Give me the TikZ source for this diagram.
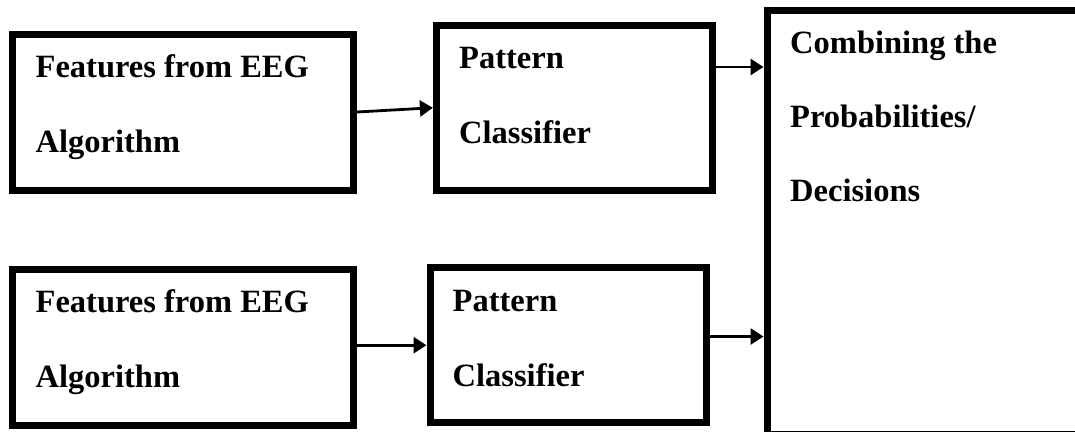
\documentclass[tikz,border=0pt]{standalone}
\usepackage{fontspec}
\setmainfont{Liberation Serif}
\usetikzlibrary{arrows.meta}
\tikzset{
  block/.style={draw=black, line width=7pt, rectangle, inner sep=0pt, fill=none},
  txt/.style={anchor=base west, inner sep=0pt, font=\fontsize{32.5}{38}\selectfont\bfseries},
  flow/.style={draw=black, line width=2.8pt, -{Triangle[length=13pt,width=16pt]}}
}
\begin{document}
\begin{tikzpicture}[x=1pt,y=-1pt]
\useasboundingbox (0,0) rectangle (1075,431);
\fill[white] (0,0) rectangle (1075,431);
\clip (0,0) rectangle (1075,431);

% feature extraction blocks
\node[block, minimum width=341pt, minimum height=156pt] (b1) at (183.2,112) {};
\node[block, minimum width=341pt, minimum height=156pt] (b3) at (183.2,347) {};
% classifier blocks
\node[block, minimum width=276pt, minimum height=164.5pt] (b2) at (574.4,107.75) {};
\node[block, minimum width=276pt, minimum height=155pt] (b4) at (568,345.2) {};
% fusion block (runs off the page on the right and bottom)
\node[block, minimum width=323pt, minimum height=423.1pt] (big) at (928.5,222.45) {};

% labels
\node[txt] (t1a) at (35.5,77.5) {Features from EEG};
\node[txt] (t1b) at (35.5,152) {Algorithm};
\node[txt] (t2a) at (459,68.5) {Pattern};
\node[txt] (t2b) at (459,143) {Classifier};
\node[txt] (t3a) at (35.5,312.5) {Features from EEG};
\node[txt] (t3b) at (35.5,387) {Algorithm};
\node[txt] (t4a) at (452.5,311) {Pattern};
\node[txt] (t4b) at (452.5,386) {Classifier};
\node[txt] (t5a) at (790,53.5) {Combining the};
\node[txt] (t5b) at (790,127.5) {Probabilities/};
\node[txt] (t5c) at (790,201.5) {Decisions};

% connectors
\draw[flow] (b1.east) -- (b2.west);
\draw[flow] ([yshift=40.75pt]b2.east) -- ([yshift=40.75pt]b2.east -| big.west);
\draw[flow] (b4.west -| b3.east) -- (b4.west);
\draw[flow] ([yshift=8.7pt]b4.east) -- ([yshift=8.7pt]b4.east -| big.west);
\end{tikzpicture}
\end{document}
